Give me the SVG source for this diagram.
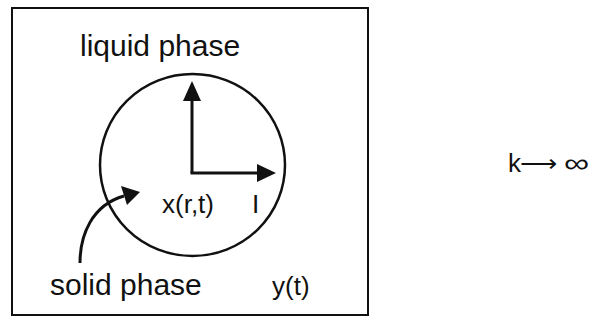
<svg xmlns="http://www.w3.org/2000/svg" width="592" height="322" viewBox="0 0 592 322">
<defs>
<style>
text{font-family:"Liberation Sans",Arial,sans-serif;fill:#111}
.big{font-size:30px}
.mid{font-size:26px}
.ln{fill:none;stroke:#111;stroke-width:3}
</style>
</defs>
<rect width="592" height="322" fill="#fff"/>
<g id="box"><rect x="12" y="8" width="356" height="307" fill="none" stroke="#111" stroke-width="2"/></g>
<g id="particle"><ellipse cx="192.5" cy="165" rx="92.5" ry="91" fill="none" stroke="#111" stroke-width="2.5"/></g>
<g id="connectors">
<line class="ln" x1="192" y1="173" x2="192" y2="100"/>
<path d="M192,81 L183,101 L201,101 Z" fill="#111"/>
<line class="ln" x1="190.5" y1="173" x2="259" y2="173"/>
<path d="M276,173 L257,164 L257,182 Z" fill="#111"/>
<path class="ln" d="M80,263 C80,235 92,205 124,196"/>
<path d="M140,192 L121,186 L127,205 Z" fill="#111"/>
</g>
<g id="labels">
<text class="big" x="80" y="56">liquid phase</text>
<text class="mid" x="162" y="213">x(r,t)</text>
<text class="mid" x="252" y="213">I</text>
<text class="big" x="50" y="295">solid phase</text>
<text class="mid" x="272" y="295">y(t)</text>
<text class="mid" x="508" y="172">k</text>
<text class="mid" x="520" y="172">⟶</text>
<text class="mid" transform="translate(564,172) scale(1.35,1)">∞</text>
</g>
</svg>
